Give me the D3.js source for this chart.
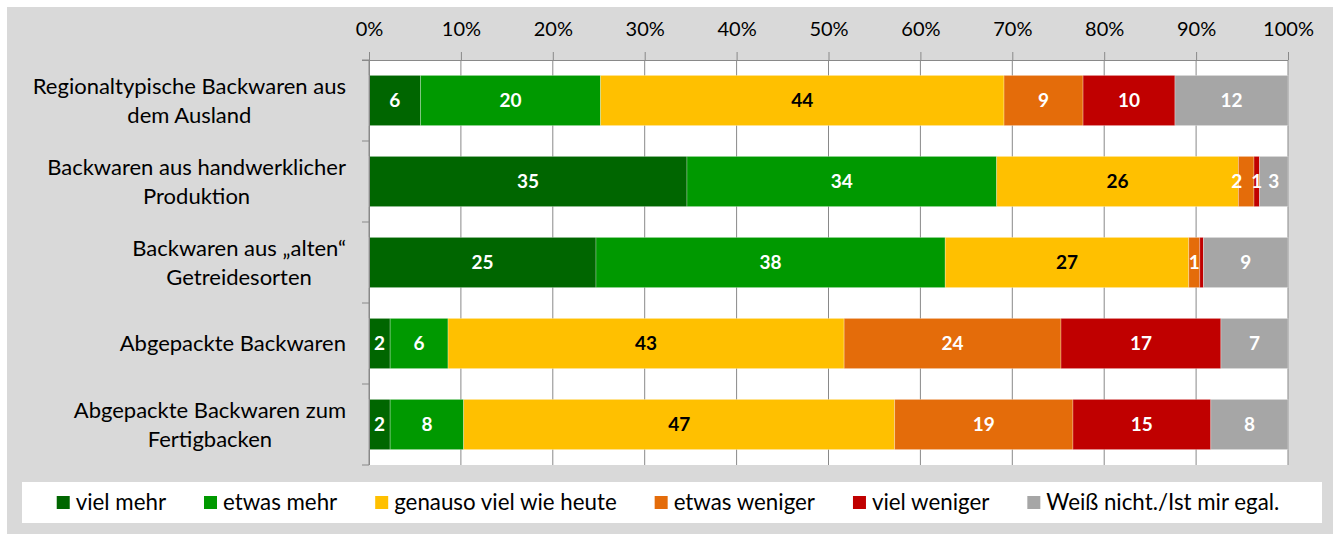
<!DOCTYPE html>
<html>
<head>
<meta charset="utf-8">
<script src="https://cdn.jsdelivr.net/npm/d3@7"></script>
<style>
  body { margin: 0; background: #fff; }
  svg { display: block; font-family: Lato, "Open Sans", sans-serif; }
</style>
</head>
<body>
<svg></svg>
<script>
// categories (line breaks as in the original)
const categories = [
  ["Regionaltypische Backwaren aus", "dem Ausland"],
  ["Backwaren aus handwerklicher", "Produktion"],
  ["Backwaren aus \u201Ealten\u201C", "Getreidesorten"],
  ["Abgepackte Backwaren"],
  ["Abgepackte Backwaren zum", "Fertigbacken"]
];
const seriesNames = ["viel mehr", "etwas mehr", "genauso viel wie heute", "etwas weniger", "viel weniger", "Weiß nicht./Ist mir egal."];
const seriesColors = ["#006600", "#009900", "#ffc000", "#e46c0a", "#c00000", "#a6a6a6"];
const labelColors = ["#fff", "#fff", "#000", "#fff", "#fff", "#fff"];

// percent values per series, one per category
const vielMehr     = [5.6, 34.6, 24.7, 2.3, 2.3];
const etwasMehr    = [19.6, 33.7, 38.0, 6.3, 8.0];
const genauso      = [43.9, 26.3, 26.5, 43.1, 46.9];
const etwasWeniger = [8.6, 1.7, 1.2, 23.6, 19.4];
const vielWeniger  = [10.0, 0.6, 0.4, 17.4, 15.0];
const weissNicht   = [12.3, 3.1, 9.2, 7.3, 8.4];

const xTicks = [0, 10, 20, 30, 40, 50, 60, 70, 80, 90, 100];

const seriesValues = [vielMehr, etwasMehr, genauso, etwasWeniger, vielWeniger, weissNicht];

const W = 1333, H = 534;
const plot = { left: 369, right: 1288, top: 60, bottom: 465 };

const svg = d3.select("svg").attr("width", W).attr("height", H);

// outer chart area
svg.append("rect").attr("x", 7).attr("y", 7).attr("width", W - 7).attr("height", H - 7).attr("fill", "#d9d9d9");
svg.append("rect")
  .attr("x", plot.left).attr("y", plot.top)
  .attr("width", plot.right - plot.left).attr("height", plot.bottom - plot.top)
  .attr("fill", "#fff");

const keys = categories.map((c, i) => i);
const rows = keys.map(i => {
  const r = { idx: i };
  seriesNames.forEach((s, j) => r[s] = seriesValues[j][i]);
  return r;
});
const stacked = d3.stack().keys(seriesNames)(rows);

const x = d3.scaleLinear().domain([0, 100]).range([plot.left, plot.right]);
const y = d3.scaleBand().domain(keys).range([plot.top, plot.bottom]).paddingInner(0.38).paddingOuter(0.19);

// grid + top axis
const xAxis = svg.append("g")
  .attr("transform", `translate(0,${plot.top})`)
  .call(d3.axisTop(x).tickValues(xTicks).tickFormat(d => d + "%").tickSize(8).tickPadding(16).tickSizeOuter(0));
xAxis.select(".domain").remove();
xAxis.selectAll(".tick line").attr("stroke", "#898989");
xAxis.selectAll(".tick text").attr("font-size", 20).attr("fill", "#000").attr("font-family", "Lato, sans-serif");

svg.append("g").selectAll("line").data(xTicks).join("line")
  .attr("x1", d => x(d)).attr("x2", d => x(d))
  .attr("y1", plot.top).attr("y2", plot.bottom)
  .attr("stroke", "#898989").attr("stroke-width", 1);

svg.append("line")
  .attr("x1", plot.left - 7).attr("x2", plot.right)
  .attr("y1", plot.top + 0.5).attr("y2", plot.top + 0.5)
  .attr("stroke", "#898989");

// bars
const bandGap = y.step() * y.paddingInner() / 2;
const layers = svg.append("g").selectAll("g").data(stacked).join("g")
  .attr("fill", (d, i) => seriesColors[i]);

layers.selectAll("rect").data(d => d).join("rect")
  .attr("x", d => x(d[0]))
  .attr("y", d => y(d.data.idx))
  .attr("width", d => x(d[1]) - x(d[0]))
  .attr("height", y.bandwidth())
  .attr("stroke", "rgba(255,255,255,0.35)")
  .attr("stroke-width", 0.8);

// value labels
const fmt = d3.format(".0f");
const labelG = svg.append("g");
stacked.forEach((layer, i) => {
  labelG.append("g").attr("fill", labelColors[i])
    .selectAll("text").data(layer.filter(p => fmt(p[1] - p[0]) !== "0")).join("text")
    .attr("class", d => "lbl row" + d.data.idx)
    .attr("x", d => (x(d[0]) + x(d[1])) / 2)
    .attr("y", d => y(d.data.idx) + y.bandwidth() / 2)
    .attr("dy", "0.36em")
    .attr("text-anchor", "middle")
    .attr("font-size", 19)
    .attr("font-weight", "bold")
    .text(d => fmt(d[1] - d[0]));
});
// push overlapping labels to the left, like the spreadsheet does
keys.forEach(k => {
  const nodes = labelG.selectAll(".row" + k).nodes()
    .sort((a, b) => +a.getAttribute("x") - +b.getAttribute("x"));
  for (let i = nodes.length - 2; i >= 0; i--) {
    const a = nodes[i], b = nodes[i + 1];
    const aw = a.getComputedTextLength(), bw = b.getComputedTextLength();
    const bLeft = +b.getAttribute("x") - bw / 2;
    const aRight = +a.getAttribute("x") + aw / 2;
    if (aRight > bLeft - 3) a.setAttribute("x", bLeft - 3 - aw / 2 - 6);
  }
});

// left axis line with ticks at band boundaries
svg.append("line")
  .attr("x1", plot.left + 0.5).attr("x2", plot.left + 0.5)
  .attr("y1", plot.top).attr("y2", plot.bottom)
  .attr("stroke", "#898989");
const bounds = keys.map(k => y(k) - bandGap).concat([plot.bottom]);
svg.append("g").selectAll("line").data(bounds).join("line")
  .attr("x1", plot.left - 7).attr("x2", plot.left)
  .attr("y1", d => d).attr("y2", d => d)
  .attr("stroke", "#898989");

// category labels: multi-line, centred block ending at the axis
const catG = svg.append("g").attr("font-size", 22).attr("fill", "#000");
categories.forEach((lines, i) => {
  const cy = y(i) + y.bandwidth() / 2;
  const lh = 29;
  const g = catG.append("g");
  const t = g.selectAll("text").data(lines).join("text")
    .attr("y", (d, j) => cy + (j - (lines.length - 1) / 2) * lh)
    .attr("dy", "0.35em")
    .attr("text-anchor", "middle")
    .text(d => d);
  const maxW = d3.max(t.nodes(), n => n.getComputedTextLength());
  t.attr("x", 346 - maxW / 2);
});

// legend
const legBox = { x: 22, y: 482, w: 1300, h: 41 };
svg.append("rect").attr("x", legBox.x).attr("y", legBox.y).attr("width", legBox.w).attr("height", legBox.h).attr("fill", "#fff");
const leg = svg.append("g").attr("font-size", 22.3);
let cx = 0;
const items = seriesNames.map((name, i) => {
  const g = leg.append("g");
  g.append("rect").attr("width", 13).attr("height", 13).attr("y", -6.5).attr("fill", seriesColors[i]);
  const tx = g.append("text").attr("x", 19).attr("dy", "0.35em").text(name);
  const w = 19 + tx.node().getComputedTextLength();
  const item = { g, x: cx };
  cx += w + 38;
  return item;
});
const total = cx - 38;
const startX = legBox.x + (legBox.w - total) / 2 - 4;
items.forEach(it => it.g.attr("transform", `translate(${startX + it.x},${legBox.y + legBox.h / 2})`));
</script>
</body>
</html>
